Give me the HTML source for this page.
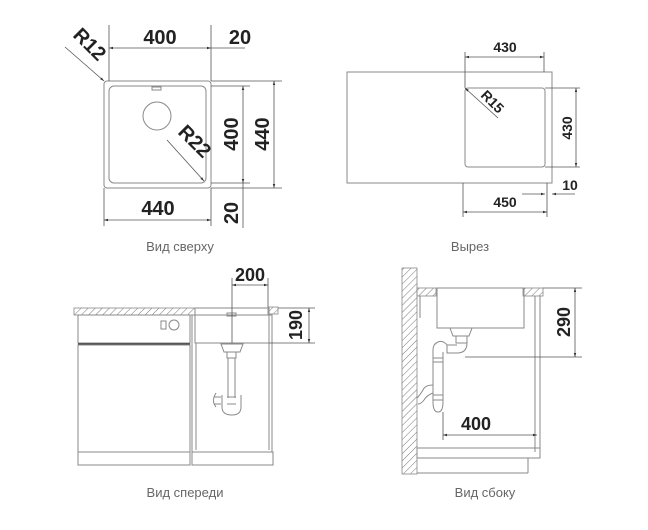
<!DOCTYPE html>
<html><head><meta charset="utf-8"><style>
html,body{margin:0;padding:0;background:#fff;}
svg{display:block;}
.l{stroke:#8a8a8a;stroke-width:1;fill:none;}
.d{stroke:#555;stroke-width:0.8;fill:none;}
.t{font-family:"Liberation Sans",sans-serif;font-weight:bold;fill:#222;}
.c{font-family:"Liberation Sans","Noto Sans CJK SC",sans-serif;fill:#666;font-size:13px;}
</style></head><body>
<svg width="648" height="530" viewBox="0 0 648 530" xmlns="http://www.w3.org/2000/svg">
<defs>
<marker id="a" viewBox="0 0 10 10" refX="10" refY="5" markerWidth="7" markerHeight="5" orient="auto-start-reverse"><path d="M0,2 L10,5 L0,8 z" fill="#333"/></marker>
<pattern id="h" width="5" height="5" patternUnits="userSpaceOnUse" patternTransform="rotate(45)"><line x1="0" y1="0" x2="0" y2="5" stroke="#777" stroke-width="1"/></pattern>
</defs>

<!-- TOP LEFT -->
<rect class="l" x="104" y="81" width="107" height="107" rx="3"/>
<rect class="l" x="109" y="86" width="97" height="97" rx="5"/>
<circle class="l" cx="157" cy="116" r="14"/>
<rect class="l" x="152" y="87" width="9" height="3"/>
<line class="d" x1="109" y1="25" x2="109" y2="81"/>
<line class="d" x1="211" y1="25" x2="211" y2="81"/>
<line class="d" x1="109" y1="48" x2="211" y2="48" marker-start="url(#a)" marker-end="url(#a)"/>
<line class="d" x1="211" y1="48" x2="245" y2="48"/>
<text class="t" x="160" y="44" font-size="20" text-anchor="middle">400</text>
<text class="t" x="240" y="44" font-size="20" text-anchor="middle">20</text>
<line class="d" x1="65" y1="47" x2="104" y2="81" marker-end="url(#a)"/>
<text class="t" font-size="20" transform="translate(72,36) rotate(45)">R12</text>
<line class="d" x1="167" y1="140" x2="204" y2="181" marker-end="url(#a)"/>
<text class="t" font-size="20" transform="translate(177,133) rotate(45)">R22</text>
<line class="d" x1="211" y1="81" x2="282" y2="81"/>
<line class="d" x1="211" y1="86" x2="250" y2="86"/>
<line class="d" x1="211" y1="183" x2="250" y2="183"/>
<line class="d" x1="211" y1="188" x2="282" y2="188"/>
<line class="d" x1="243" y1="86" x2="243" y2="183" marker-start="url(#a)" marker-end="url(#a)"/>
<line class="d" x1="243" y1="183" x2="243" y2="228"/>
<line class="d" x1="274" y1="81" x2="274" y2="188" marker-start="url(#a)" marker-end="url(#a)"/>
<text class="t" font-size="20" text-anchor="middle" transform="translate(238,134) rotate(-90)">400</text>
<text class="t" font-size="20" text-anchor="middle" transform="translate(269,134) rotate(-90)">440</text>
<text class="t" font-size="20" text-anchor="middle" transform="translate(238,213) rotate(-90)">20</text>
<line class="d" x1="104" y1="188" x2="104" y2="226"/>
<line class="d" x1="211" y1="188" x2="211" y2="226"/>
<line class="d" x1="104" y1="220" x2="211" y2="220" marker-start="url(#a)" marker-end="url(#a)"/>
<text class="t" x="158" y="215" font-size="20" text-anchor="middle">440</text>
<text class="c" x="180" y="251" text-anchor="middle">Вид сверху</text>

<!-- TOP RIGHT -->
<rect class="l" x="347" y="72" width="205" height="111"/>
<rect class="l" x="465" y="88" width="80" height="79" rx="3"/>
<line class="d" x1="465" y1="52" x2="465" y2="88"/>
<line class="d" x1="544" y1="52" x2="544" y2="72"/>
<line class="d" x1="465" y1="57" x2="544" y2="57" marker-start="url(#a)" marker-end="url(#a)"/>
<text class="t" x="505" y="52" font-size="14" text-anchor="middle">430</text>
<line class="d" x1="465" y1="88" x2="498" y2="118" marker-start="url(#a)"/>
<text class="t" font-size="14" transform="translate(480,96) rotate(45)">R15</text>
<line class="d" x1="545" y1="88" x2="580" y2="88"/>
<line class="d" x1="545" y1="167" x2="580" y2="167"/>
<line class="d" x1="576" y1="88" x2="576" y2="167" marker-start="url(#a)" marker-end="url(#a)"/>
<text class="t" font-size="14" text-anchor="middle" transform="translate(572,128) rotate(-90)">430</text>
<line class="d" x1="547" y1="183" x2="547" y2="217"/>
<line class="d" x1="463" y1="183" x2="463" y2="217"/>
<line class="d" x1="522" y1="194" x2="545" y2="194" marker-end="url(#a)"/>
<line class="d" x1="575" y1="194" x2="552" y2="194" marker-end="url(#a)"/>
<text class="t" x="570" y="190" font-size="14" text-anchor="middle">10</text>
<line class="d" x1="463" y1="212" x2="547" y2="212" marker-start="url(#a)" marker-end="url(#a)"/>
<text class="t" x="505" y="207" font-size="14" text-anchor="middle">450</text>
<text class="c" x="470" y="251" text-anchor="middle">Вырез</text>

<!-- BOTTOM LEFT -->
<rect x="74" y="308" width="121" height="7" fill="url(#h)" stroke="#888" stroke-width="0.8"/>
<rect x="268" y="307" width="10" height="7" fill="url(#h)" stroke="#888" stroke-width="0.8"/>
<rect class="l" x="78" y="315" width="112" height="28"/>
<line x1="78" y1="344" x2="190" y2="344" stroke="#444" stroke-width="1.5"/>
<rect class="l" x="78" y="345" width="112" height="107"/>
<rect class="l" x="78" y="452" width="112" height="13"/>
<rect class="l" x="161" y="321" width="5" height="8"/>
<circle class="l" cx="174" cy="325" r="5"/>
<rect class="l" x="195" y="308" width="74" height="35"/>
<rect class="l" x="192" y="315" width="80" height="137"/>
<line class="l" x1="196" y1="343" x2="196" y2="450"/>
<line class="l" x1="269" y1="343" x2="269" y2="450"/>
<rect class="l" x="192" y="452" width="81" height="13"/>
<rect class="l" x="227" y="313" width="9" height="3"/>
<path class="l" d="M221,344 h22 l-3,8 h-16 z M227,352 h9 v6 h-9z M228,358 v40 M235,358 v40 M222,395 v12 q0,8 10,8 q9,0 9,-8 v-12 M216,393 q-5,8 0,14 M221,397 h-7 M221,404 h-7 M227,397 h9 M227,404 h9"/>
<line class="d" x1="232" y1="278" x2="232" y2="343"/>
<line class="d" x1="268" y1="278" x2="268" y2="307"/>
<line class="d" x1="232" y1="285" x2="268" y2="285" marker-start="url(#a)" marker-end="url(#a)"/>
<text class="t" x="250" y="281" font-size="18" text-anchor="middle">200</text>
<line class="d" x1="278" y1="308" x2="315" y2="308"/>
<line class="d" x1="269" y1="343" x2="315" y2="343"/>
<line class="d" x1="309" y1="308" x2="309" y2="343" marker-start="url(#a)" marker-end="url(#a)"/>
<text class="t" font-size="18" text-anchor="middle" transform="translate(302,325) rotate(-90)">190</text>
<text class="c" x="185" y="497" text-anchor="middle">Вид спереди</text>

<!-- BOTTOM RIGHT -->
<rect x="402" y="268" width="15" height="206" fill="url(#h)" stroke="#888" stroke-width="0.8"/>
<rect x="417" y="288" width="19" height="8" fill="url(#h)" stroke="#888" stroke-width="0.8"/>
<rect x="523" y="288" width="20" height="8" fill="url(#h)" stroke="#888" stroke-width="0.8"/>
<rect class="l" x="437" y="288" width="87" height="40"/>
<line class="l" x1="420" y1="296" x2="420" y2="318"/>
<line class="l" x1="535" y1="296" x2="535" y2="452"/>
<line class="l" x1="540" y1="296" x2="540" y2="452"/>
<rect class="l" x="417" y="448" width="123" height="10"/>
<line class="l" x1="528" y1="458" x2="528" y2="473"/>
<line class="l" x1="417" y1="473" x2="528" y2="473"/>
<path class="l" d="M450,328 h22 l-3,8 h-16z M456,336 h11 v7 h-11z M467,343 q0,10 -10,10 h-10 v-8 h10 M447,345 q-4,-5 -9,-3 q-5,2 -5,8 v52 q0,10 5,10 q5,0 5,-10 v-50 M433,358 h10 M433,362 h10 M433,395 h10 M433,400 h10 M433,385 q-8,0 -10,5 q-3,5 -6,8 M433,393 q-6,2 -9,7 q-3,4 -6,4"/>
<line class="d" x1="465" y1="357" x2="582" y2="357"/>
<line class="d" x1="543" y1="288" x2="582" y2="288"/>
<line class="d" x1="575" y1="288" x2="575" y2="357" marker-start="url(#a)" marker-end="url(#a)"/>
<text class="t" font-size="18" text-anchor="middle" transform="translate(570,322) rotate(-90)">290</text>
<line class="d" x1="443" y1="412" x2="443" y2="440"/>
<line class="d" x1="443" y1="435" x2="537" y2="435" marker-start="url(#a)" marker-end="url(#a)"/>
<text class="t" x="476" y="430" font-size="18" text-anchor="middle">400</text>
<text class="c" x="485" y="497" text-anchor="middle">Вид сбоку</text>
</svg>
</body></html>
